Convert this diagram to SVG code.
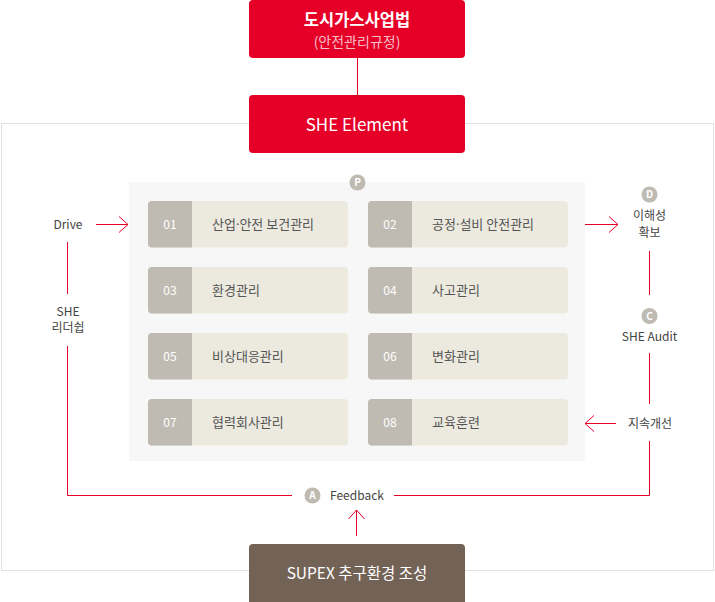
<svg xmlns="http://www.w3.org/2000/svg" width="715" height="602" viewBox="0 0 715 602">
<defs>
<style>
text{font-family:"Noto Sans CJK KR","Noto Sans",sans-serif;}
.red{fill:#e60028;}
.title{fill:#fff;font-size:16px;text-anchor:middle;}
.sub{fill:#f6bdc7;font-size:14px;text-anchor:middle;}
.num{fill:#bfbbb3;}
.lab{fill:#ece9df;}
.nt{fill:#fff;font-size:12px;text-anchor:middle;}
.lt{fill:#555;font-size:13px;}
.dot{font-family:"Noto Sans",sans-serif;}
.side{fill:#444;font-size:12px;text-anchor:middle;}
.circ{fill:#bfbbb3;}
.ct{fill:#fff;font-size:10px;font-weight:bold;text-anchor:middle;}
.ln{fill:none;stroke:#e60028;stroke-width:1;}
</style>
<marker id="arr" viewBox="0 0 11 18" refX="10" refY="9" markerWidth="11" markerHeight="18" orient="auto" markerUnits="userSpaceOnUse">
<path d="M1,1 L10,9 L1,17" fill="none" stroke="#e60028" stroke-width="1"/>
</marker>
</defs>
<rect width="715" height="602" fill="#fff"/>
<g id="frame">
<rect x="1.5" y="123.5" width="712" height="447" fill="#fff" stroke="#e1e1e1" stroke-width="1"/>
<rect x="129" y="182" width="456" height="279" fill="#f7f7f7"/>
</g>
<g id="connectors">
<path class="ln" d="M357.5,58 V95"/>
<path class="ln" d="M96,224.5 H128" marker-end="url(#arr)"/>
<path class="ln" d="M585,224.5 H618" marker-end="url(#arr)"/>
<path class="ln" d="M616,423.5 H585" marker-end="url(#arr)"/>
<path class="ln" d="M356.5,536 V510" marker-end="url(#arr)"/>
<path class="ln" d="M67.5,242 V294"/>
<path class="ln" d="M67.5,346 V495.5 H292"/>
<path class="ln" d="M394,495.5 H649.5 V441"/>
<path class="ln" d="M649.5,251 V295"/>
<path class="ln" d="M649.5,353 V404"/>
</g>
<g id="law">
<rect class="red" x="249" y="0" width="216" height="58" rx="4"/>
<text class="title" x="357" y="25.5" font-weight="bold" style="font-size:16.5px">도시가스사업법</text>
<text class="sub" x="357" y="46.5">(안전관리규정)</text>
</g>
<g id="she-element">
<rect class="red" x="249" y="95" width="216" height="58" rx="4"/>
<text class="title" x="357" y="131" style="font-size:17px">SHE Element</text>
</g>
<g id="supex">
<rect x="249" y="544" width="216" height="62" rx="4" fill="#736357"/>
<text class="title" x="357" y="579" style="font-size:15.5px">SUPEX 추구환경 조성</text>
</g>
<g id="plan">
<circle class="circ" cx="357.5" cy="182.5" r="8"/>
<text class="ct" x="357.5" y="186">P</text>
</g>
<g id="item01">
<rect class="lab" x="148" y="201" width="200" height="46.5" rx="4"/>
<path class="num" d="M152,201 H192 V247.5 H152 A4,4 0 0 1 148,243.5 V205 A4,4 0 0 1 152,201 Z"/>
<text class="nt" x="170" y="228.7">01</text>
<text class="lt" x="212" y="229">산업<tspan class="dot">·</tspan>안전 보건관리</text>
</g>
<g id="item02">
<rect class="lab" x="368" y="201" width="200" height="46.5" rx="4"/>
<path class="num" d="M372,201 H412 V247.5 H372 A4,4 0 0 1 368,243.5 V205 A4,4 0 0 1 372,201 Z"/>
<text class="nt" x="390" y="228.7">02</text>
<text class="lt" x="432" y="229">공정<tspan class="dot">·</tspan>설비 안전관리</text>
</g>
<g id="item03">
<rect class="lab" x="148" y="267" width="200" height="46.5" rx="4"/>
<path class="num" d="M152,267 H192 V313.5 H152 A4,4 0 0 1 148,309.5 V271 A4,4 0 0 1 152,267 Z"/>
<text class="nt" x="170" y="294.7">03</text>
<text class="lt" x="212" y="295">환경관리</text>
</g>
<g id="item04">
<rect class="lab" x="368" y="267" width="200" height="46.5" rx="4"/>
<path class="num" d="M372,267 H412 V313.5 H372 A4,4 0 0 1 368,309.5 V271 A4,4 0 0 1 372,267 Z"/>
<text class="nt" x="390" y="294.7">04</text>
<text class="lt" x="432" y="295">사고관리</text>
</g>
<g id="item05">
<rect class="lab" x="148" y="333" width="200" height="46.5" rx="4"/>
<path class="num" d="M152,333 H192 V379.5 H152 A4,4 0 0 1 148,375.5 V337 A4,4 0 0 1 152,333 Z"/>
<text class="nt" x="170" y="360.7">05</text>
<text class="lt" x="212" y="361">비상대응관리</text>
</g>
<g id="item06">
<rect class="lab" x="368" y="333" width="200" height="46.5" rx="4"/>
<path class="num" d="M372,333 H412 V379.5 H372 A4,4 0 0 1 368,375.5 V337 A4,4 0 0 1 372,333 Z"/>
<text class="nt" x="390" y="360.7">06</text>
<text class="lt" x="432" y="361">변화관리</text>
</g>
<g id="item07">
<rect class="lab" x="148" y="399" width="200" height="46.5" rx="4"/>
<path class="num" d="M152,399 H192 V445.5 H152 A4,4 0 0 1 148,441.5 V403 A4,4 0 0 1 152,399 Z"/>
<text class="nt" x="170" y="426.7">07</text>
<text class="lt" x="212" y="427">협력회사관리</text>
</g>
<g id="item08">
<rect class="lab" x="368" y="399" width="200" height="46.5" rx="4"/>
<path class="num" d="M372,399 H412 V445.5 H372 A4,4 0 0 1 368,441.5 V403 A4,4 0 0 1 372,399 Z"/>
<text class="nt" x="390" y="426.7">08</text>
<text class="lt" x="432" y="427">교육훈련</text>
</g>
<g id="drive">
<text class="side" x="68" y="228.7">Drive</text>
</g>
<g id="leadership">
<text class="side" x="68" y="315.7">SHE</text>
<text class="side" x="68" y="332.2">리더쉽</text>
</g>
<g id="do">
<circle class="circ" cx="649.5" cy="194.5" r="8"/>
<text class="ct" x="649.5" y="198">D</text>
<text class="side" x="649.5" y="220.2">이해성</text>
<text class="side" x="649.5" y="236.7">확보</text>
</g>
<g id="check">
<circle class="circ" cx="649.5" cy="316" r="8"/>
<text class="ct" x="649.5" y="319.5">C</text>
<text class="side" x="649.5" y="341.2">SHE Audit</text>
</g>
<g id="improve">
<text class="side" x="650" y="427.7">지속개선</text>
</g>
<g id="act">
<circle class="circ" cx="312.5" cy="495.5" r="8"/>
<text class="ct" x="312.5" y="499">A</text>
<text class="side" x="330" y="499.7" style="text-anchor:start">Feedback</text>
</g>
</svg>
